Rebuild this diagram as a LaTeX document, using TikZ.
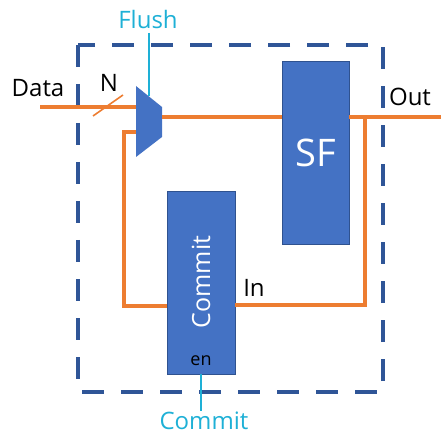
\documentclass[tikz,border=0pt]{standalone}
\usepackage{fontspec}
\setmainfont{Open Sans}
\definecolor{wire}{RGB}{237,125,49}
\definecolor{blk}{RGB}{68,114,196}
\definecolor{blkedge}{RGB}{47,82,143}
\definecolor{frame}{RGB}{47,85,151}
\definecolor{ctl}{RGB}{30,176,214}
\begin{document}
\begin{tikzpicture}[x=1pt,y=-1pt,
  wireline/.style={wire,line width=3.2pt},
  ctlline/.style={ctl,line width=1.8pt},
  unit/.style={draw=blkedge,line width=0.6pt,fill=blk,inner sep=0pt,text=white},
  lbl/.style={font=\fontsize{24}{28}\selectfont,inner sep=0pt},
  ctllbl/.style={lbl,text=ctl}]
\useasboundingbox (0,0) rectangle (441,435);
% frame
\draw[frame,line width=4pt,dash pattern=on 22pt off 17pt] (78,45) rectangle (383,392);
% blocks
\node[unit,minimum width=67pt,minimum height=183pt,font=\fontsize{38}{44}\selectfont] (sf) at (315.5,152.5) {SF};
\node[unit,minimum width=68pt,minimum height=183pt] (commit) at (201,282.5) {};
\node[rotate=90,text=white,lbl,font=\fontsize{25}{30}\selectfont] (commitlbl) at (201,282) {Commit};
\node[lbl,font=\fontsize{18}{21}\selectfont] (en) at (201,361) {en};
% mux
\coordinate (m1) at (136,86);
\coordinate (m2) at (162,107);
\coordinate (m3) at (162,137);
\coordinate (m4) at (136,157);
\fill[blk] (m1) -- (m2) -- (m3) -- (m4) -- cycle;
\coordinate (muxin) at (136,107);
\coordinate (muxfb) at (136,132);
\coordinate (muxout) at (162,117);
\coordinate (muxsel) at (149,96.5);
% wires
\coordinate (datain) at (40,107);
\draw[wireline] (datain) -- (muxin);
\draw[wire,line width=1.6pt] (93,116) -- (123,95);
\draw[wireline] (muxout) -- (sf.west |- muxout);
\coordinate (outend) at (441,117);
\draw[wireline] (sf.east |- outend) -- (outend);
\coordinate (rt) at (365,117);
\coordinate (rb) at (365,305);
\draw[wireline] (rt) -- (rb) -- (commit.east |- rb);
\coordinate (lb) at (124,306);
\coordinate (lt) at (124,132);
\draw[wireline] (commit.west |- lb) -- (lb) -- (lt) -- (muxfb);
% control
\node[ctllbl] (flush) at (148,20) {Flush};
\draw[ctlline] (149,33) -- (muxsel);
\node[ctllbl] (commitctl) at (204,421) {Commit};
\draw[ctlline] (commit.south) -- (201,411);
% labels
\node[lbl] (data) at (38,88) {Data};
\node[lbl] (n) at (109,83) {N};
\node[lbl] (out) at (410,97) {Out};
\node[lbl] (in) at (254,288) {In};
\end{tikzpicture}
\end{document}
